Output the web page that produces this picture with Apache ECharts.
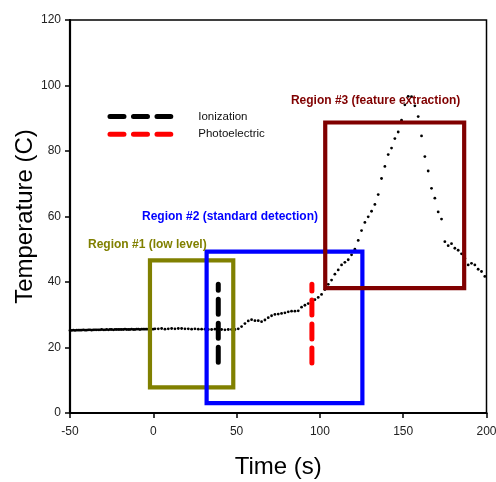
<!DOCTYPE html>
<html>
<head>
<meta charset="utf-8">
<script src="https://cdn.jsdelivr.net/npm/echarts@6/dist/echarts.min.js"></script>
<style>html,body{margin:0;padding:0;background:#fff;}#c{width:496px;height:482px;}</style>
</head>
<body>
<div id="c"></div>
<script>
// ---- data ----
var timeFlat = [-50,-49,-48,-47,-46,-45,-44,-43,-42,-41,-40,-39,-38,-37,-36,-35,-34,-33,-32,-31,-30,-29,-28,-27,-26,-25,-24,-23,-22,-21,-20,-19,-18,-17,-16,-15,-14,-13,-12,-11,-10,-9,-8,-7,-6,-5,-4,-3,-2,-1,0];
var tempFlat = [25.2,25.2,25.3,25.2,25.3,25.3,25.3,25.3,25.4,25.3,
                25.3,25.4,25.4,25.3,25.4,25.4,25.4,25.4,25.4,25.5,
                25.4,25.4,25.5,25.4,25.5,25.5,25.4,25.5,25.5,25.5,
                25.5,25.5,25.5,25.6,25.5,25.5,25.5,25.6,25.5,25.5,
                25.6,25.6,25.5,25.6,25.6,25.6,25.6,25.6,25.7,25.6,
                25.6];
var timeMain = [1,3,5,7,9,11,13,15,17,19,21,23,25,27,29,31,33,35,37,39,41,43,45,47,49,
                51,53,55,57,59,61,63,65,67,69,71,73,75,77,79,81,83,85,87,89,91,93,95,97,99,101,
                103,105,107,109,111,113,115,117,119,121,123,125,127,129,131,133,135,137,139,141,
                143,145,147,149,151,153,155,157,159,161,163,165,167,169,171,173,175,177,179,181,
                183,185,187,189,191,193,195,197,199];
var tempMain = [25.7,25.7,25.8,25.6,25.7,25.8,25.7,25.8,25.8,25.7,25.7,25.6,25.7,25.6,25.6,25.6,25.5,25.5,25.6,25.5,25.5,25.4,25.5,25.5,25.5,
                25.7,26.4,27.3,28.1,28.5,28.2,28.2,27.9,28.4,29.1,29.7,30.1,30.2,30.4,30.6,30.9,31.1,31.1,31.2,32.3,32.9,33.4,33.9,34.6,35.3,36.2,
                37.7,39.3,40.6,42.4,43.7,45.2,46.0,46.8,48.3,50.0,52.7,55.7,58.2,59.9,61.6,63.7,66.7,71.6,75.3,78.9,
                80.9,83.8,85.8,89.4,94.1,96.7,96.6,93.8,90.5,84.6,78.3,73.9,68.6,65.6,61.4,59.2,52.3,51.1,51.7,50.3,
                49.7,48.6,47.2,45.2,45.7,45.2,43.9,43.2,41.7];

// region boxes [xMin, xMax, yMin, yMax]
var region1Box = [-2, 48, 7.8, 46.6];
var region2Box = [32, 125.5, 3.0, 49.3];
var region3Box = [103.2, 186.6, 38.1, 88.7];
var regionNames = ['Region #1 (low level)', 'Region #2 (standard detection)', 'Region #3 (feature extraction)'];
var regionLabelPos = [[-39.2, 51.3], [-6.8, 59.9], [82.6, 95.4]];

// detector markers: [time, yStart, yEnd]
var ionizationMark = [39, 15.5, 39.3];
var photoMark = [95.2, 15.3, 39.3];

// legend
var legendNames = ['Ionization', 'Photoelectric'];
var legendLineX = [-26, 10.5];
var legendY = [90.5, 85.1];
var legendTextX = 27;

var xTicks = {min: -50, max: 200, interval: 50};
var yTicks = {min: 0, max: 120, interval: 20};

// ---- build ----
function boxPts(b) {
  return [[b[0], b[2]], [b[1], b[2]], [b[1], b[3]], [b[0], b[3]], [b[0], b[2]]];
}
var curve = [];
for (var i = 0; i < timeFlat.length; i++) curve.push([timeFlat[i], tempFlat[i]]);
for (var j = 0; j < timeMain.length; j++) curve.push([timeMain[j], tempMain[j]]);

var FONT = 'Liberation Sans, Arial, sans-serif';
var regionColors = ['#808000', '#0000ff', '#800000'];
var boxes = [region1Box, region2Box, region3Box];

var series = [];
series.push({
  type: 'scatter', data: curve, symbol: 'circle', symbolSize: 2.8,
  itemStyle: {color: '#000', opacity: 1}, z: 2, silent: true
});
boxes.forEach(function (b, k) {
  series.push({
    type: 'line', data: boxPts(b), symbol: 'none', z: 3 + k, silent: true,
    lineStyle: {color: regionColors[k], width: 4.2, join: 'miter', cap: 'square'}
  });
  series.push({
    type: 'scatter', data: [regionLabelPos[k]], symbolSize: 0, z: 10, silent: true,
    itemStyle: {opacity: 1},
    label: {show: true, position: [0, 0], align: 'left', verticalAlign: 'middle',
      formatter: regionNames[k], color: regionColors[k], fontFamily: FONT,
      fontWeight: 'bold', fontSize: 12, opacity: 1}
  });
});
[[ionizationMark, '#000'], [photoMark, '#ff0000']].forEach(function (m) {
  var v = m[0];
  series.push({
    type: 'line', data: [[v[0], v[1]], [v[0], v[2]]], symbol: 'none', z: 8, silent: true,
    lineStyle: {color: m[1], width: 5, type: [15, 9], cap: 'round'}
  });
});
var legendColors = ['#000', '#ff0000'];
legendNames.forEach(function (n, k) {
  series.push({
    type: 'line', data: [[legendLineX[0], legendY[k]], [legendLineX[1], legendY[k]]],
    symbol: 'none', z: 8, silent: true,
    lineStyle: {color: legendColors[k], width: 5, type: [14, 9.5], cap: 'round'}
  });
  series.push({
    type: 'scatter', data: [[legendTextX, legendY[k]]], symbolSize: 0, z: 10, silent: true,
    itemStyle: {opacity: 1},
    label: {show: true, position: [0, 0], align: 'left', verticalAlign: 'middle',
      formatter: n, color: '#111', fontFamily: FONT, fontSize: 11.5, opacity: 1}
  });
});

var chart = echarts.init(document.getElementById('c'), null, {renderer: 'canvas'});
chart.setOption({
  animation: false,
  backgroundColor: '#fff',
  grid: {left: 70, right: 9.5, top: 20, bottom: 69, outerBoundsMode: 'none', containLabel: false,
    show: true, borderColor: '#000', borderWidth: 1.5, backgroundColor: 'transparent'},
  xAxis: {
    type: 'value', min: xTicks.min, max: xTicks.max, interval: xTicks.interval,
    name: 'Time (s)', nameLocation: 'middle', nameGap: 42, nameMoveOverlap: false,
    nameTextStyle: {fontFamily: FONT, fontSize: 24, color: '#000'},
    axisLine: {show: true, onZero: false, lineStyle: {color: '#000', width: 2.2}},
    axisTick: {show: true, length: 5, lineStyle: {color: '#000', width: 1.5}},
    axisLabel: {margin: 13, fontFamily: FONT, fontSize: 12, color: '#222'},
    splitLine: {show: false}
  },
  yAxis: {
    type: 'value', min: yTicks.min, max: yTicks.max, interval: yTicks.interval,
    name: 'Temperature (C)', nameLocation: 'middle', nameGap: 33, nameMoveOverlap: false,
    nameTextStyle: {fontFamily: FONT, fontSize: 24, color: '#000'},
    axisLine: {show: true, onZero: false, lineStyle: {color: '#000', width: 2.2}},
    axisTick: {show: true, length: 5, lineStyle: {color: '#000', width: 1.5}},
    axisLabel: {margin: 9, fontFamily: FONT, fontSize: 12, color: '#222'},
    splitLine: {show: false}
  },
  series: series
});
</script>
</body>
</html>
